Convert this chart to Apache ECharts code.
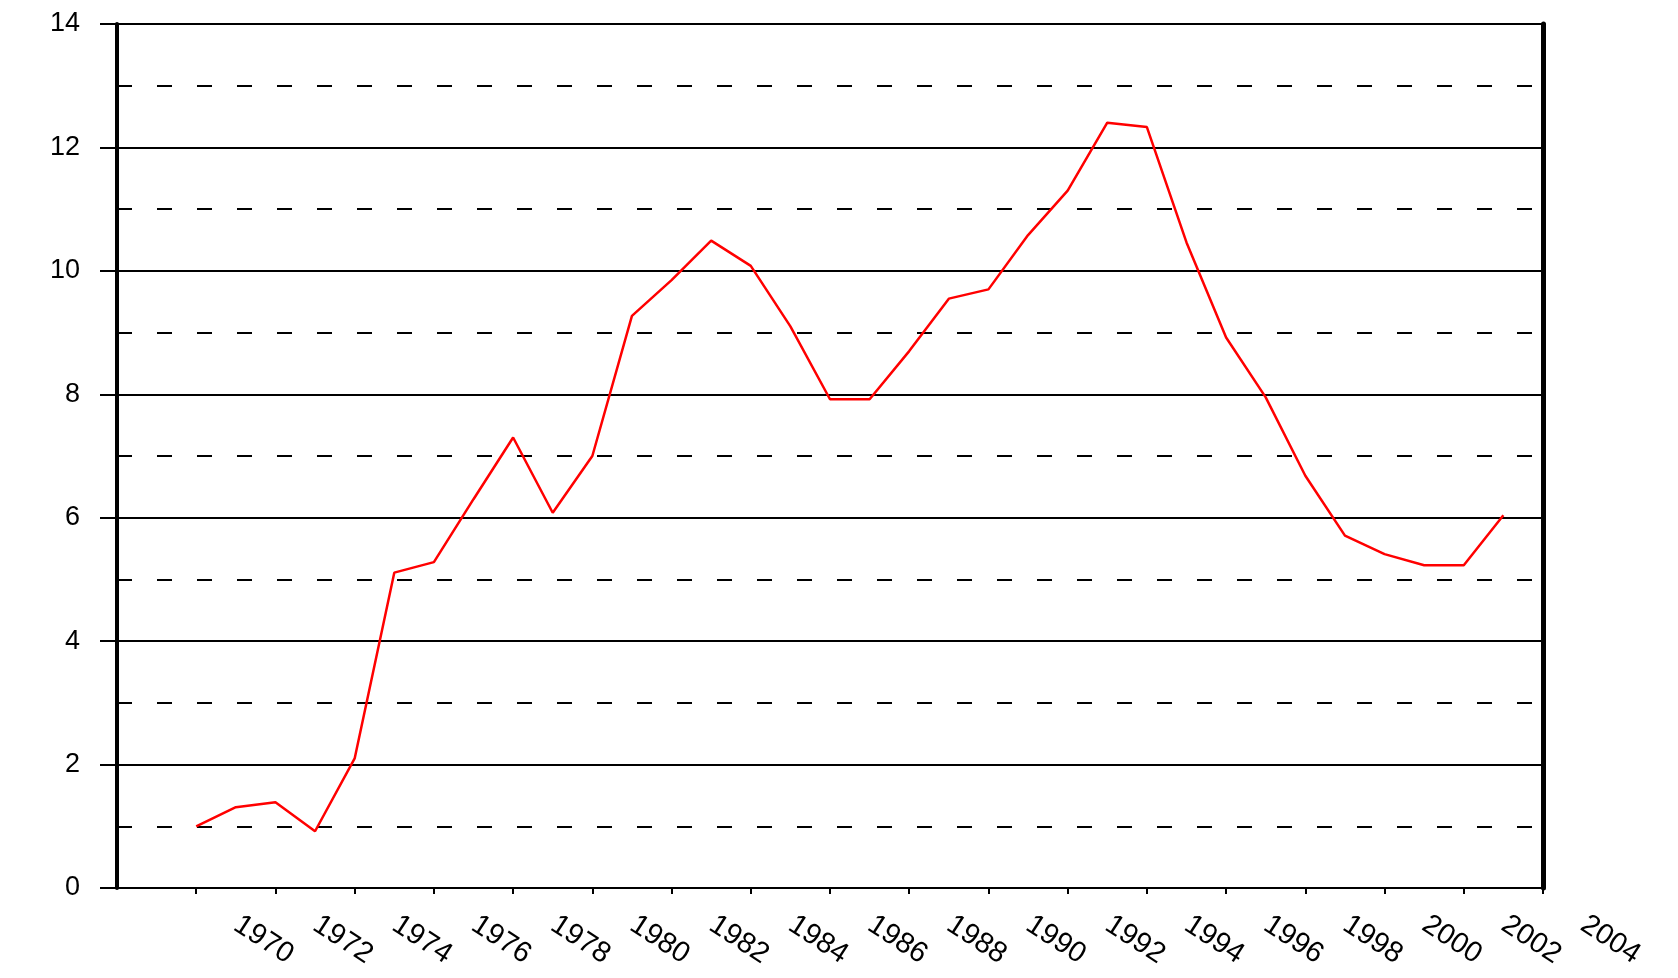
<!DOCTYPE html>
<html>
<head>
<meta charset="utf-8">
<title>line chart</title>
<script src="https://cdn.jsdelivr.net/npm/echarts@6/dist/echarts.min.js"></script>
<style>
html, body { margin: 0; padding: 0; background: #fff; }
#chart { width: 1678px; height: 978px; }
</style>
</head>
<body>
<div id="chart"></div>
<script>
// values
const years = [
  1970, 1971, 1972, 1973, 1974, 1975, 1976, 1977, 1978, 1979,
  1980, 1981, 1982, 1983, 1984, 1985, 1986, 1987, 1988, 1989,
  1990, 1991, 1992, 1993, 1994, 1995, 1996, 1997, 1998, 1999,
  2000, 2001, 2002, 2003
]
const values = [
  1.0, 1.31, 1.39, 0.92, 2.1, 5.11, 5.28, 6.3, 7.3, 6.08,
  7.0, 9.27, 9.85, 10.49, 10.08, 9.1, 7.92, 7.92, 8.7, 9.55,
  9.7, 10.58, 11.3, 12.4, 12.33, 10.46, 8.92, 7.95, 6.68, 5.71,
  5.41, 5.23, 5.23, 6.04
]
const tickYears = [
  1970, 1972, 1974, 1976, 1978, 1980, 1982, 1984, 1986,
  1988, 1990, 1992, 1994, 1996, 1998, 2000, 2002, 2004
]

const font = 'Liberation Sans, Arial, sans-serif'
const chart = echarts.init(document.getElementById('chart'))

chart.setOption({
  animation: false,
  backgroundColor: '#fff',
  grid: {
    left: 117,
    right: 135,
    top: 24,
    bottom: 90
  },
  xAxis: {
    type: 'value',
    min: 1968,
    max: 2004,
    interval: 2,
    axisLine: {
      show: true,
      onZero: false,
      lineStyle: { color: '#000', width: 2 }
    },
    axisTick: {
      show: true,
      length: 6,
      customValues: tickYears,
      lineStyle: { color: '#000', width: 2 }
    },
    axisLabel: {
      customValues: tickYears,
      formatter: (v) => String(v),
      rotate: -33,
      margin: 8,
      padding: [0, 0, 0, 48],
      color: '#000',
      fontFamily: font,
      fontSize: 29
    },
    splitLine: { show: false }
  },
  yAxis: [
    {
      type: 'value',
      position: 'left',
      min: 0,
      max: 14,
      interval: 2,
      axisLine: {
        show: true,
        lineStyle: { color: '#000', width: 4 }
      },
      axisTick: {
        show: true,
        length: 17,
        lineStyle: { color: '#000', width: 2 }
      },
      axisLabel: {
        margin: 37,
        color: '#000',
        fontFamily: font,
        fontSize: 27
      },
      splitLine: {
        show: true,
        lineStyle: { color: '#000', width: 2 }
      }
    },
    {
      // dashed lines at every unit + right frame
      type: 'value',
      position: 'right',
      min: 0,
      max: 14,
      interval: 1,
      axisLine: {
        show: true,
        lineStyle: { color: '#000', width: 5 }
      },
      axisTick: { show: false },
      axisLabel: { show: false },
      splitLine: {
        show: true,
        lineStyle: { color: '#000', width: 2, type: [15, 25] }
      }
    }
  ],
  series: [
    {
      type: 'line',
      yAxisIndex: 0,
      symbol: 'none',
      lineStyle: { color: '#ff0000', width: 2.5 },
      data: years.map((y, i) => [y, values[i]])
    }
  ]
})
</script>
</body>
</html>
